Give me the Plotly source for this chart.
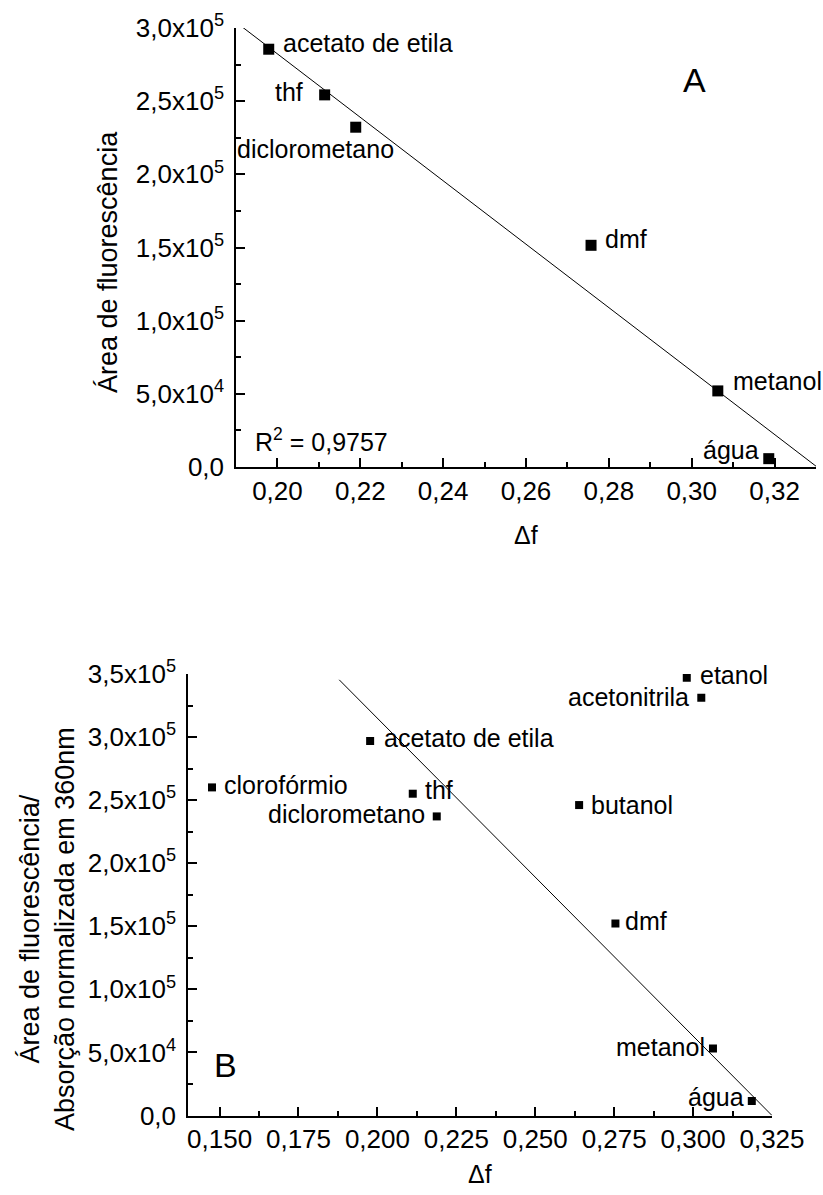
import numpy as np
import plotly.graph_objects as go

# ---- Panel A: fluorescence area vs. orientation polarizability ----
solvents_a = ["acetato de etila", "thf", "diclorometano", "dmf", "metanol", "água"]
df_a = [0.1979, 0.2114, 0.2189, 0.2757, 0.3063, 0.3186]
area_a = [2.855e5, 2.543e5, 2.322e5, 1.515e5, 0.520e5, 0.057e5]

# ---- Panel B: fluorescence area / normalized absorption at 360 nm ----
solvents_b = ["clorofórmio", "acetato de etila", "thf", "diclorometano", "butanol",
              "dmf", "etanol", "acetonitrila", "metanol", "água"]
df_b = [0.1476, 0.1977, 0.2112, 0.2188, 0.2639, 0.2754, 0.2980, 0.3026, 0.3063, 0.3186]
area_b = [2.601e5, 2.968e5, 2.551e5, 2.371e5, 2.461e5, 1.522e5, 3.470e5, 3.311e5, 0.532e5, 0.115e5]

# straight line shown in panel B
line_b_x = [0.1879, 0.325]
line_b_y = [3.454e5, 0.0]

# axis ticks
xticks_a = [0.20, 0.22, 0.24, 0.26, 0.28, 0.30, 0.32]
xticktext_a = ["0,20", "0,22", "0,24", "0,26", "0,28", "0,30", "0,32"]
yticks_a = [0, 5e4, 1e5, 1.5e5, 2e5, 2.5e5, 3e5]
yticktext_a = ["0,0", "5,0x10<sup>4</sup>", "1,0x10<sup>5</sup>", "1,5x10<sup>5</sup>",
               "2,0x10<sup>5</sup>", "2,5x10<sup>5</sup>", "3,0x10<sup>5</sup>"]
xticks_b = [0.150, 0.175, 0.200, 0.225, 0.250, 0.275, 0.300, 0.325]
xticktext_b = ["0,150", "0,175", "0,200", "0,225", "0,250", "0,275", "0,300", "0,325"]
yticks_b = [0, 5e4, 1e5, 1.5e5, 2e5, 2.5e5, 3e5, 3.5e5]
yticktext_b = ["0,0", "5,0x10<sup>4</sup>", "1,0x10<sup>5</sup>", "1,5x10<sup>5</sup>",
               "2,0x10<sup>5</sup>", "2,5x10<sup>5</sup>", "3,0x10<sup>5</sup>",
               "3,5x10<sup>5</sup>"]

# linear regression for panel A
slope_a, icpt_a = np.polyfit(df_a, area_a, 1)
fit_x_a = np.array([0.19, 0.335])
fit_y_a = slope_a * fit_x_a + icpt_a
pred = slope_a * np.array(df_a) + icpt_a
r2_a = 1 - np.sum((np.array(area_a) - pred) ** 2) / np.sum((np.array(area_a) - np.mean(area_a)) ** 2)

FONT = "Liberation Sans, Arial, sans-serif"
W, H = 823, 1195

fig = go.Figure()
fig.add_trace(go.Scatter(x=fit_x_a, y=fit_y_a, mode="lines", line=dict(color="black", width=1),
                         xaxis="x", yaxis="y", showlegend=False, hoverinfo="skip"))
fig.add_trace(go.Scatter(x=df_a, y=area_a, mode="markers",
                         marker=dict(symbol="square", size=11, color="black"),
                         xaxis="x", yaxis="y", showlegend=False))
fig.add_trace(go.Scatter(x=line_b_x, y=line_b_y, mode="lines", line=dict(color="black", width=1),
                         xaxis="x2", yaxis="y2", showlegend=False, hoverinfo="skip"))
fig.add_trace(go.Scatter(x=df_b, y=area_b, mode="markers",
                         marker=dict(symbol="square", size=8, color="black"),
                         xaxis="x2", yaxis="y2", showlegend=False))

axis_common = dict(showline=True, linecolor="black", linewidth=1.5, showgrid=False,
                   zeroline=False, ticks="inside", ticklen=9, tickwidth=1.5,
                   tickcolor="black", tickfont=dict(family=FONT, size=26, color="black"),
                   automargin=False, fixedrange=True)

fig.update_layout(
    width=W, height=H, margin=dict(l=0, r=0, t=0, b=0),
    paper_bgcolor="white", plot_bgcolor="white",
    font=dict(family=FONT, color="black"),
    xaxis=dict(axis_common, domain=[236 / W, 816 / W], anchor="y", range=[0.19, 0.33],
               tickmode="array", tickvals=xticks_a, ticktext=xticktext_a,
               minor=dict(ticks="inside", ticklen=5, tickwidth=1.5, tickcolor="black",
                          tickvals=[0.19, 0.21, 0.23, 0.25, 0.27, 0.29, 0.31, 0.33])),
    yaxis=dict(axis_common, domain=[1 - 467 / H, 1 - 28 / H], anchor="x", range=[0, 3e5],
               tickmode="array", tickvals=yticks_a, ticktext=yticktext_a, ticklabelstandoff=5,
               minor=dict(ticks="inside", ticklen=5, tickwidth=1.5, tickcolor="black",
                          tickvals=[2.5e4, 7.5e4, 1.25e5, 1.75e5, 2.25e5, 2.75e5])),
    xaxis2=dict(axis_common, domain=[188 / W, 772 / W], anchor="y2", range=[0.14, 0.325],
                tickmode="array", tickvals=xticks_b, ticktext=xticktext_b,
                minor=dict(ticks="inside", ticklen=5, tickwidth=1.5, tickcolor="black",
                           tickvals=[0.1625, 0.1875, 0.2125, 0.2375, 0.2625, 0.2875, 0.3125])),
    yaxis2=dict(axis_common, domain=[1 - 1115.5 / H, 1 - 674 / H], anchor="x2", range=[0, 3.5e5],
                tickmode="array", tickvals=yticks_b, ticktext=yticktext_b, ticklabelstandoff=5,
                minor=dict(ticks="inside", ticklen=5, tickwidth=1.5, tickcolor="black",
                           tickvals=[2.5e4, 7.5e4, 1.25e5, 1.75e5, 2.25e5, 2.75e5, 3.25e5])),
)

LBL = dict(family=FONT, size=25, color="black")

# point labels: (xanchor, xshift, yshift)
offs_a = {
    "acetato de etila": ("left", 12, 6),
    "thf": ("right", -20, 3),
    "diclorometano": ("center", -40, -22),
    "dmf": ("left", 12, 6),
    "metanol": ("left", 13, 10),
    "água": ("right", -8, 9),
}
for name, xv, yv in zip(solvents_a, df_a, area_a):
    xa, xs, ys = offs_a[name]
    fig.add_annotation(x=xv, y=yv, xref="x", yref="y", text=name, showarrow=False,
                       xanchor=xa, yanchor="middle", xshift=xs, yshift=ys, font=LBL)

offs_b = {
    "clorofórmio": ("left", 10, 2),
    "acetato de etila": ("left", 12, 3),
    "thf": ("left", 10, 4),
    "diclorometano": ("right", -10, 2),
    "butanol": ("left", 10, 0),
    "dmf": ("left", 8, 3),
    "etanol": ("left", 11, 3),
    "acetonitrila": ("right", -10, 1),
    "metanol": ("right", -6, 1),
    "água": ("right", -6, 4),
}
for name, xv, yv in zip(solvents_b, df_b, area_b):
    xa, xs, ys = offs_b[name]
    fig.add_annotation(x=xv, y=yv, xref="x2", yref="y2", text=name, showarrow=False,
                       xanchor=xa, yanchor="middle", xshift=xs, yshift=ys, font=LBL)

# panel letters and fit quality
fig.add_annotation(x=0.3006, y=2.643e5, xref="x", yref="y", text="A", showarrow=False,
                   xanchor="center", yanchor="middle",
                   font=dict(family=FONT, size=34, color="black"))
fig.add_annotation(x=0.152, y=0.40e5, xref="x2", yref="y2", text="B", showarrow=False,
                   xanchor="center", yanchor="middle",
                   font=dict(family=FONT, size=34, color="black"))
fig.add_annotation(x=0.194, y=0.182e5, xref="x", yref="y", xanchor="left", yanchor="middle",
                   text="R<sup>2</sup> = " + f"{r2_a:.4f}".replace(".", ","), showarrow=False,
                   font=LBL)

# axis titles
TTL = dict(family=FONT, size=27, color="black")
fig.add_annotation(x=108 / W, y=1 - 262 / H, xref="paper", yref="paper", textangle=-90,
                   xanchor="center", yanchor="middle",
                   text="Área de fluorescência", showarrow=False, font=TTL)
fig.add_annotation(x=47 / W, y=1 - 929 / H, xref="paper", yref="paper", textangle=-90,
                   xanchor="center", yanchor="middle",
                   text="Área de fluorescência/<br>Absorção normalizada em 360nm",
                   showarrow=False, font=TTL)
fig.add_annotation(x=526 / W, y=1 - 535 / H, xref="paper", yref="paper",
                   xanchor="center", yanchor="middle",
                   text="Δf", showarrow=False, font=dict(family=FONT, size=25, color="black"))
fig.add_annotation(x=480 / W, y=1 - 1174 / H, xref="paper", yref="paper",
                   xanchor="center", yanchor="middle",
                   text="Δf", showarrow=False, font=dict(family=FONT, size=25, color="black"))

fig.write_html("out.html")
